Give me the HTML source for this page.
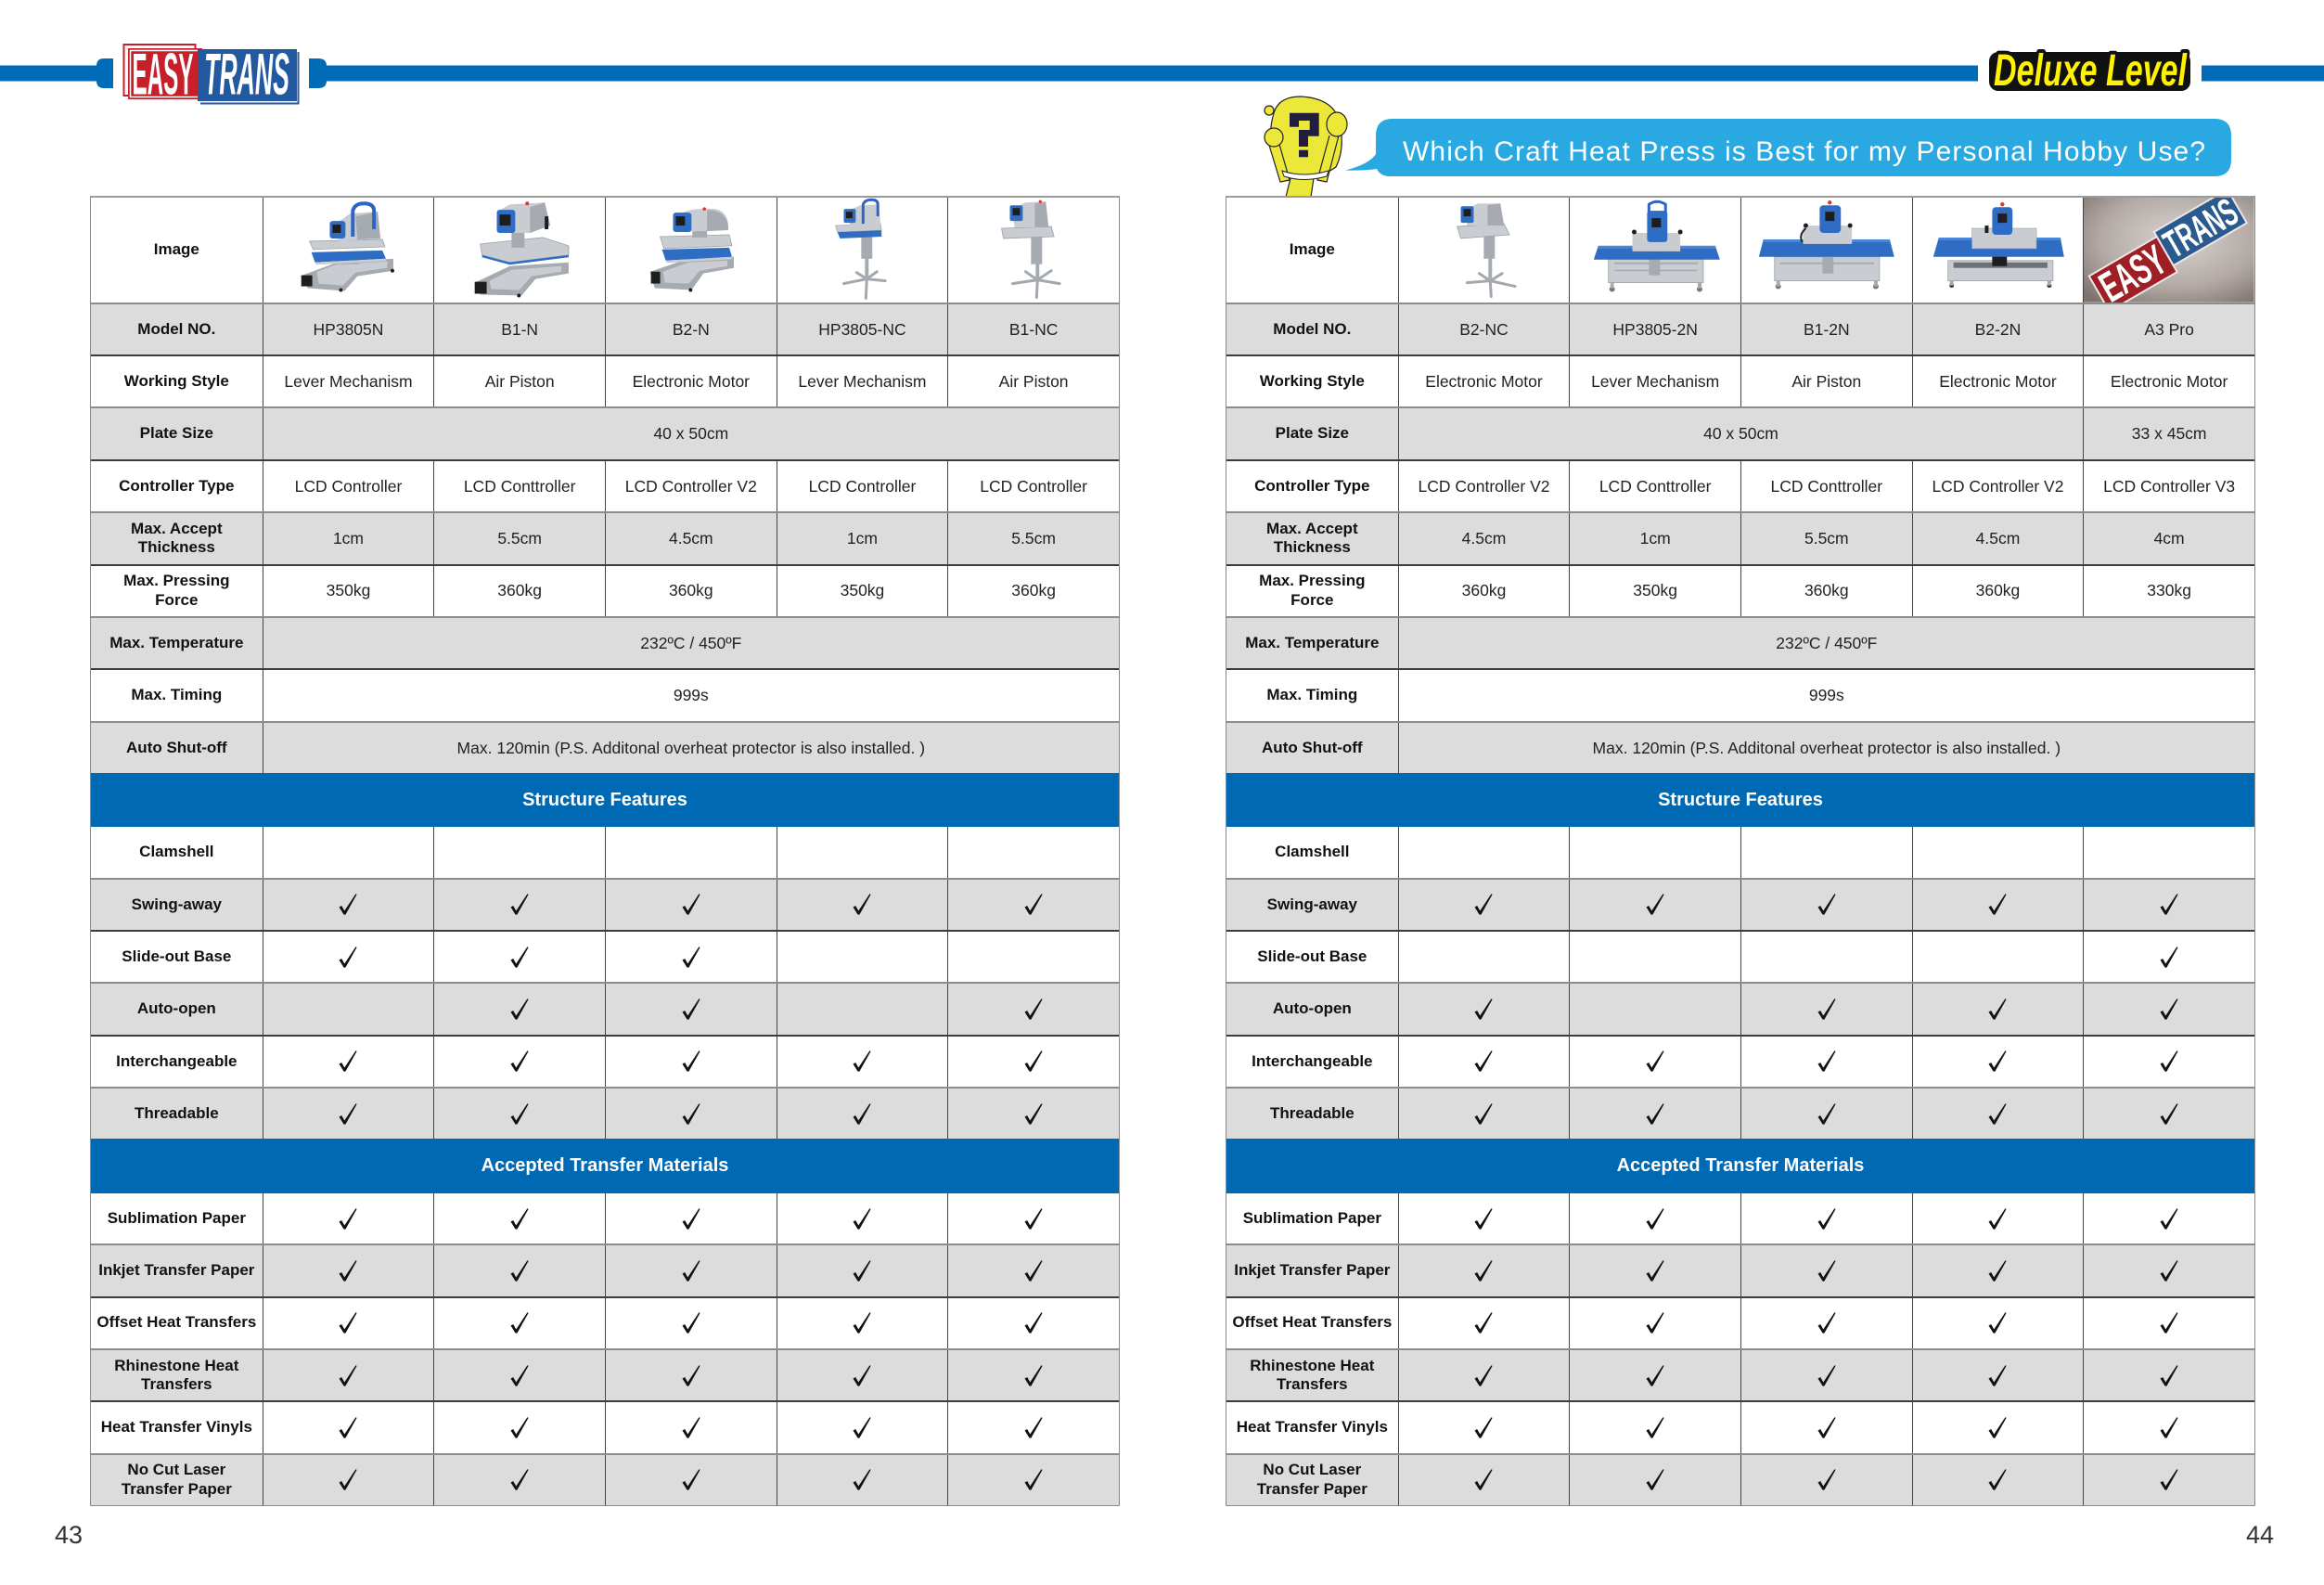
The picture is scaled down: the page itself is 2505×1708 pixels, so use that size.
<!DOCTYPE html>
<html><head><meta charset="utf-8">
<style>
*{margin:0;padding:0;box-sizing:border-box}
body{width:2505px;height:1708px;position:relative;overflow:hidden;background:#fff;font-family:"Liberation Sans",Arial,sans-serif;}
.tbl{position:absolute;top:211px;width:1110px;border:1px solid #8a8a8a;border-top:2px solid #9a9a9a;}
.r{display:flex;height:56.36px;border-top:2px solid #3c3c3c;background:#fff}
.r.g{background:#dcdcdc;border-top-color:#8c8c8c}
.r.i{height:112.72px;border-top:none}
.r.h{background:#0069b4;border-top-color:#0069b4;color:#fff;font-weight:bold;font-size:20px;justify-content:center;align-items:center}
.r.a{border-top-color:#0069b4}
.c{flex:0 0 184.67px;display:flex;align-items:center;justify-content:center;text-align:center;border-left:1px solid #444;font-size:17.5px;color:#222;line-height:20.5px;overflow:hidden}
.c:first-child{border-left:none;font-weight:bold;font-size:17px;color:#111}
.s4{flex-basis:738.67px}.s5{flex-basis:923.33px}
.k{width:20px;height:23px;fill:#111}
svg.p{width:100%;height:100%;display:block}
.gl{fill:#c9cdd2}.gm{fill:#a6abb2}.bl{fill:#2f6cc4}.bk{fill:#1e1e1e}
.pn{position:absolute;font-size:27px;line-height:27px;color:#333;top:1641px}
</style></head>
<body>

<svg width="2505" height="215" style="position:absolute;left:0;top:0">
 <rect x="0" y="70.5" width="104" height="17" fill="#006cb8"/>
 <path d="M112,63 H122 V95 H112 Q104,95 104,87 V71 Q104,63 112,63 Z" fill="#006cb8"/>
 <path d="M333,63 H343 Q352,63 352,71 V87 Q352,95 343,95 H333 Z" fill="#006cb8"/>
 <rect x="351" y="70.5" width="1781" height="17" fill="#006cb8"/>
 <rect x="2373" y="70.5" width="132" height="17" fill="#006cb8"/>
 <!-- logo -->
 <rect x="133.5" y="48" width="77" height="55" fill="none" stroke="#c8202a" stroke-width="2"/>
 <rect x="138" y="52" width="80" height="55" fill="#c8202a"/>
 <rect x="140.5" y="54.5" width="75" height="50" fill="none" stroke="#fff" stroke-width="1.5"/>
 <rect x="213" y="53" width="107" height="56" fill="#23599e"/>
 <path d="M216,111.5 H321.5 V56" fill="none" stroke="#23599e" stroke-width="2"/>
 <text x="175.5" y="101.5" text-anchor="middle" font-family="Liberation Sans" font-weight="bold" font-size="63" fill="#fff" textLength="66" lengthAdjust="spacingAndGlyphs">EASY</text>
 <text x="266" y="101.5" text-anchor="middle" font-family="Liberation Sans" font-weight="bold" font-style="italic" font-size="63" fill="#fff" textLength="92" lengthAdjust="spacingAndGlyphs">TRANS</text>
 <!-- deluxe level -->
 <rect x="2144" y="56" width="217" height="42" rx="10" fill="#111"/>
 <text x="2253" y="92" text-anchor="middle" font-family="Liberation Sans" font-weight="bold" font-style="italic" font-size="48" fill="#fff200" stroke="#111" stroke-width="8" paint-order="stroke" stroke-linejoin="round" textLength="208" lengthAdjust="spacingAndGlyphs">Deluxe Level</text>
 <!-- bubble -->
 <path d="M1501,128 H2387 Q2405,128 2405,146 V172 Q2405,190 2387,190 H1498 Q1488,190 1484,182 Q1470,184 1450,183.5 Q1476,177 1483,166 V146 Q1483,128 1501,128 Z" fill="#29a8e1"/>
 <text x="1512" y="173" font-family="Liberation Sans" font-size="30" fill="#fff" textLength="865" lengthAdjust="spacing">Which Craft Heat Press is Best for my Personal Hobby Use?</text>
 <!-- character -->
 <path d="M1386,212 L1391,192 L1416,192 L1413,212 Z" fill="#ece83a" stroke="#222" stroke-width="1.2"/>
 <path d="M1373,122 Q1378,104 1402,104 Q1438,106 1444,132 Q1450,160 1440,180 Q1420,194 1396,192 Q1376,190 1373,170 Q1366,145 1373,122 Z" fill="#ece83a" stroke="#222" stroke-width="1.2"/>
 <circle cx="1368" cy="119" r="5" fill="#ece83a" stroke="#222" stroke-width="1.2"/>
 <path d="M1366,150 L1380,196 L1390,194 L1378,152" fill="#ece83a" stroke="#222" stroke-width="1.2"/>
 <path d="M1443,146 L1430,196 L1420,194 L1433,146" fill="#ece83a" stroke="#222" stroke-width="1.2"/>
 <ellipse cx="1373" cy="148" rx="10" ry="10" fill="#ece83a" stroke="#222" stroke-width="1.2"/>
 <ellipse cx="1441" cy="134" rx="11" ry="13" fill="#ece83a" stroke="#222" stroke-width="1.2"/>
 <path d="M1382,184 Q1405,192 1432,184 L1430,190 Q1405,197 1384,190 Z" fill="#fff" stroke="#222" stroke-width="1"/>
 <path d="M1390,121.7 H1421.7 V146.7 H1410 V158 H1400 V140 H1411.7 V130 H1400 V136.7 H1390 Z" fill="#221d3d"/>
 <rect x="1400" y="161.7" width="10" height="7.6" fill="#221d3d"/>
</svg>

<!-- LEFT TABLE -->
<div class="tbl" style="left:97px">
 <div class="r i">
  <div class="c">Image</div>
  <div class="c"><svg class="p" viewBox="0 0 185 113">
<polygon class="gm" points="42,84 80,70 141,66 141,79 102,85 88,101 48,98"/>
<polygon class="gl" points="58,80 80,72 135,69 134,76 100,81 86,95 60,93"/>
<rect class="bk" x="41" y="84" width="12" height="12"/>
<circle class="bk" cx="84" cy="100" r="2"/><circle class="bk" cx="140" cy="79" r="2"/>
<polygon class="gm" points="84,62 104,62 104,72 84,72"/>
<polygon class="bl" points="52,59 129,57 133,66 56,70"/>
<polygon class="gl" points="56,70 133,66 133,68.5 57,72.5"/>
<polygon class="gl" points="50,47 129,45 132,53 54,56" stroke="#9ca1a8" stroke-width="0.8"/>
<polygon class="gl" points="76,30 94,17 124,15 127,44 82,47"/>
<polygon class="gm" points="100,20 124,15 127,44 102,45"/>
<rect class="bl" x="72" y="25" width="17" height="19" rx="3"/>
<rect class="bk" x="75" y="29" width="9" height="9"/>
<path d="M97,42 V14 Q99,6 109,6 Q120,6 120,14 V34" fill="none" stroke="#2f65c0" stroke-width="4"/>
  </svg></div>
  <div class="c"><svg class="p" viewBox="0 0 185 113">
<polygon class="gm" points="44,92 82,74 146,70 146,82 110,88 95,106 50,105"/>
<polygon class="gl" points="60,90 84,78 138,74 138,80 106,85 92,100 62,99"/>
<rect class="bk" x="44" y="91" width="13" height="13"/>
<circle class="bk" cx="92" cy="106" r="2"/>
<polygon class="gl" points="50,50 118,43 146,52 146,62 82,70 52,62" stroke="#9ca1a8" stroke-width="0.8"/>
<polygon class="bl" points="52,62 82,70 146,62 146,64.5 82,72.5 52,64.5"/>
<rect class="gm" x="84" y="32" width="14" height="22"/>
<polygon class="gl" points="70,14 82,7 120,5 126,30 104,38 72,38"/>
<polygon class="gm" points="104,10 120,5 126,30 104,38"/>
<rect class="bl" x="68" y="13" width="20" height="25" rx="3"/>
<rect class="bk" x="71" y="18" width="12" height="12"/>
<rect class="bk" x="120" y="20" width="4" height="14"/>
<circle cx="101" cy="6" r="2" fill="#d33"/>
  </svg></div>
  <div class="c"><svg class="p" viewBox="0 0 185 113">
<polygon class="gm" points="48,80 90,66 139,64 139,76 106,82 93,100 53,98"/>
<polygon class="gl" points="62,80 90,70 132,68 132,74 102,79 90,93 64,92"/>
<rect class="bk" x="49" y="80" width="10" height="13"/>
<circle class="bk" cx="92" cy="100" r="2"/>
<polygon class="bl" points="61,56 134,54 137,64 65,68"/>
<polygon class="gl" points="65,68 137,64 137,66.5 66,70.5"/>
<polygon class="gl" points="59,42 134,40 137,52 63,55" stroke="#9ca1a8" stroke-width="0.8"/>
<rect class="gm" x="94" y="33" width="16" height="10"/>
<path class="gl" d="M76,37 L78,19 Q90,10 118,12 Q134,14 133,35 Z"/>
<path class="gm" d="M110,13 Q134,14 133,35 L110,36 Z"/>
<rect class="bl" x="73" y="16" width="20" height="21" rx="3"/>
<rect class="bk" x="76" y="20" width="10" height="10"/>
<circle cx="107" cy="12" r="1.8" fill="#d33"/>
  </svg></div>
  <div class="c"><svg class="p" viewBox="0 0 185 113">
<g stroke="#a3a8af" stroke-width="3" stroke-linecap="round">
<line x1="97" y1="88" x2="72" y2="93"/><line x1="97" y1="88" x2="117" y2="90"/>
<line x1="97" y1="88" x2="86" y2="81"/><line x1="97" y1="88" x2="108" y2="80"/>
<line x1="97" y1="88" x2="96" y2="109"/></g>
<rect class="gm" x="95" y="55" width="4" height="34"/>
<rect class="gm" x="91" y="42" width="12" height="24"/>
<polygon class="bl" points="65,37 113,35 113,42 68,44"/>
<polygon class="gl" points="63,30 112,28 113,35 65,37" stroke="#9ca1a8" stroke-width="0.6"/>
<polygon class="gl" points="76,14 90,8 110,7 112,29 79,30"/>
<rect class="bl" x="72" y="12" width="13" height="15" rx="2"/>
<rect class="bk" x="74.5" y="15" width="7" height="7"/>
<path d="M93,28 V7 Q95,2 102,2 Q109,2 109,7 V20" fill="none" stroke="#2f65c0" stroke-width="3"/>
  </svg></div>
  <div class="c"><svg class="p" viewBox="0 0 185 113">
<g stroke="#a3a8af" stroke-width="3" stroke-linecap="round">
<line x1="97" y1="89" x2="70" y2="93"/><line x1="97" y1="89" x2="121" y2="93"/>
<line x1="97" y1="89" x2="84" y2="80"/><line x1="97" y1="89" x2="112" y2="79"/>
<line x1="97" y1="89" x2="96" y2="108"/></g>
<rect class="gm" x="95" y="55" width="4" height="34"/>
<rect class="gm" x="90" y="42" width="12" height="30"/>
<polygon class="gl" points="58,33 112,31 115,42 60,44" stroke="#9ca1a8" stroke-width="0.8"/>
<polygon class="gl" points="70,12 84,5 106,4 109,32 72,32"/>
<polygon class="gm" points="94,6 106,4 109,32 94,32"/>
<rect class="bl" x="67" y="8" width="14" height="17" rx="2"/>
<rect class="bk" x="70" y="11" width="8" height="8"/>
<circle cx="100" cy="4" r="1.6" fill="#d33"/>
  </svg></div>
 </div>
 <div class="r g"><div class="c">Model NO.</div><div class="c">HP3805N</div><div class="c">B1-N</div><div class="c">B2-N</div><div class="c">HP3805-NC</div><div class="c">B1-NC</div></div>
 <div class="r"><div class="c">Working Style</div><div class="c">Lever Mechanism</div><div class="c">Air Piston</div><div class="c">Electronic Motor</div><div class="c">Lever Mechanism</div><div class="c">Air Piston</div></div>
 <div class="r g"><div class="c">Plate Size</div><div class="c s5">40 x 50cm</div></div>
 <div class="r"><div class="c">Controller Type</div><div class="c">LCD Controller</div><div class="c">LCD Conttroller</div><div class="c">LCD Controller V2</div><div class="c">LCD Controller</div><div class="c">LCD Controller</div></div>
 <div class="r g"><div class="c">Max. Accept<br>Thickness</div><div class="c">1cm</div><div class="c">5.5cm</div><div class="c">4.5cm</div><div class="c">1cm</div><div class="c">5.5cm</div></div>
 <div class="r"><div class="c">Max. Pressing<br>Force</div><div class="c">350kg</div><div class="c">360kg</div><div class="c">360kg</div><div class="c">350kg</div><div class="c">360kg</div></div>
 <div class="r g"><div class="c">Max. Temperature</div><div class="c s5">232ºC / 450ºF</div></div>
 <div class="r"><div class="c">Max. Timing</div><div class="c s5">999s</div></div>
 <div class="r g"><div class="c">Auto Shut-off</div><div class="c s5">Max. 120min (P.S. Additonal overheat protector is also installed. )</div></div>
 <div class="r h">Structure Features</div>
 <div class="r a"><div class="c">Clamshell</div><div class="c"></div><div class="c"></div><div class="c"></div><div class="c"></div><div class="c"></div></div>
 <div class="r g"><div class="c">Swing-away</div><div class="c"><svg class="k" viewBox="0 0 20 23"><polygon points="0.5,14.5 3.2,13 6.3,18.5 18.4,0.2 19.6,0.9 7.4,22.6 5.6,22.6"/></svg></div><div class="c"><svg class="k" viewBox="0 0 20 23"><polygon points="0.5,14.5 3.2,13 6.3,18.5 18.4,0.2 19.6,0.9 7.4,22.6 5.6,22.6"/></svg></div><div class="c"><svg class="k" viewBox="0 0 20 23"><polygon points="0.5,14.5 3.2,13 6.3,18.5 18.4,0.2 19.6,0.9 7.4,22.6 5.6,22.6"/></svg></div><div class="c"><svg class="k" viewBox="0 0 20 23"><polygon points="0.5,14.5 3.2,13 6.3,18.5 18.4,0.2 19.6,0.9 7.4,22.6 5.6,22.6"/></svg></div><div class="c"><svg class="k" viewBox="0 0 20 23"><polygon points="0.5,14.5 3.2,13 6.3,18.5 18.4,0.2 19.6,0.9 7.4,22.6 5.6,22.6"/></svg></div></div>
 <div class="r"><div class="c">Slide-out Base</div><div class="c"><svg class="k" viewBox="0 0 20 23"><polygon points="0.5,14.5 3.2,13 6.3,18.5 18.4,0.2 19.6,0.9 7.4,22.6 5.6,22.6"/></svg></div><div class="c"><svg class="k" viewBox="0 0 20 23"><polygon points="0.5,14.5 3.2,13 6.3,18.5 18.4,0.2 19.6,0.9 7.4,22.6 5.6,22.6"/></svg></div><div class="c"><svg class="k" viewBox="0 0 20 23"><polygon points="0.5,14.5 3.2,13 6.3,18.5 18.4,0.2 19.6,0.9 7.4,22.6 5.6,22.6"/></svg></div><div class="c"></div><div class="c"></div></div>
 <div class="r g"><div class="c">Auto-open</div><div class="c"></div><div class="c"><svg class="k" viewBox="0 0 20 23"><polygon points="0.5,14.5 3.2,13 6.3,18.5 18.4,0.2 19.6,0.9 7.4,22.6 5.6,22.6"/></svg></div><div class="c"><svg class="k" viewBox="0 0 20 23"><polygon points="0.5,14.5 3.2,13 6.3,18.5 18.4,0.2 19.6,0.9 7.4,22.6 5.6,22.6"/></svg></div><div class="c"></div><div class="c"><svg class="k" viewBox="0 0 20 23"><polygon points="0.5,14.5 3.2,13 6.3,18.5 18.4,0.2 19.6,0.9 7.4,22.6 5.6,22.6"/></svg></div></div>
 <div class="r"><div class="c">Interchangeable</div><div class="c"><svg class="k" viewBox="0 0 20 23"><polygon points="0.5,14.5 3.2,13 6.3,18.5 18.4,0.2 19.6,0.9 7.4,22.6 5.6,22.6"/></svg></div><div class="c"><svg class="k" viewBox="0 0 20 23"><polygon points="0.5,14.5 3.2,13 6.3,18.5 18.4,0.2 19.6,0.9 7.4,22.6 5.6,22.6"/></svg></div><div class="c"><svg class="k" viewBox="0 0 20 23"><polygon points="0.5,14.5 3.2,13 6.3,18.5 18.4,0.2 19.6,0.9 7.4,22.6 5.6,22.6"/></svg></div><div class="c"><svg class="k" viewBox="0 0 20 23"><polygon points="0.5,14.5 3.2,13 6.3,18.5 18.4,0.2 19.6,0.9 7.4,22.6 5.6,22.6"/></svg></div><div class="c"><svg class="k" viewBox="0 0 20 23"><polygon points="0.5,14.5 3.2,13 6.3,18.5 18.4,0.2 19.6,0.9 7.4,22.6 5.6,22.6"/></svg></div></div>
 <div class="r g"><div class="c">Threadable</div><div class="c"><svg class="k" viewBox="0 0 20 23"><polygon points="0.5,14.5 3.2,13 6.3,18.5 18.4,0.2 19.6,0.9 7.4,22.6 5.6,22.6"/></svg></div><div class="c"><svg class="k" viewBox="0 0 20 23"><polygon points="0.5,14.5 3.2,13 6.3,18.5 18.4,0.2 19.6,0.9 7.4,22.6 5.6,22.6"/></svg></div><div class="c"><svg class="k" viewBox="0 0 20 23"><polygon points="0.5,14.5 3.2,13 6.3,18.5 18.4,0.2 19.6,0.9 7.4,22.6 5.6,22.6"/></svg></div><div class="c"><svg class="k" viewBox="0 0 20 23"><polygon points="0.5,14.5 3.2,13 6.3,18.5 18.4,0.2 19.6,0.9 7.4,22.6 5.6,22.6"/></svg></div><div class="c"><svg class="k" viewBox="0 0 20 23"><polygon points="0.5,14.5 3.2,13 6.3,18.5 18.4,0.2 19.6,0.9 7.4,22.6 5.6,22.6"/></svg></div></div>
 <div class="r h">Accepted Transfer Materials</div>
 <div class="r a"><div class="c">Sublimation Paper</div><div class="c"><svg class="k" viewBox="0 0 20 23"><polygon points="0.5,14.5 3.2,13 6.3,18.5 18.4,0.2 19.6,0.9 7.4,22.6 5.6,22.6"/></svg></div><div class="c"><svg class="k" viewBox="0 0 20 23"><polygon points="0.5,14.5 3.2,13 6.3,18.5 18.4,0.2 19.6,0.9 7.4,22.6 5.6,22.6"/></svg></div><div class="c"><svg class="k" viewBox="0 0 20 23"><polygon points="0.5,14.5 3.2,13 6.3,18.5 18.4,0.2 19.6,0.9 7.4,22.6 5.6,22.6"/></svg></div><div class="c"><svg class="k" viewBox="0 0 20 23"><polygon points="0.5,14.5 3.2,13 6.3,18.5 18.4,0.2 19.6,0.9 7.4,22.6 5.6,22.6"/></svg></div><div class="c"><svg class="k" viewBox="0 0 20 23"><polygon points="0.5,14.5 3.2,13 6.3,18.5 18.4,0.2 19.6,0.9 7.4,22.6 5.6,22.6"/></svg></div></div>
 <div class="r g"><div class="c">Inkjet Transfer Paper</div><div class="c"><svg class="k" viewBox="0 0 20 23"><polygon points="0.5,14.5 3.2,13 6.3,18.5 18.4,0.2 19.6,0.9 7.4,22.6 5.6,22.6"/></svg></div><div class="c"><svg class="k" viewBox="0 0 20 23"><polygon points="0.5,14.5 3.2,13 6.3,18.5 18.4,0.2 19.6,0.9 7.4,22.6 5.6,22.6"/></svg></div><div class="c"><svg class="k" viewBox="0 0 20 23"><polygon points="0.5,14.5 3.2,13 6.3,18.5 18.4,0.2 19.6,0.9 7.4,22.6 5.6,22.6"/></svg></div><div class="c"><svg class="k" viewBox="0 0 20 23"><polygon points="0.5,14.5 3.2,13 6.3,18.5 18.4,0.2 19.6,0.9 7.4,22.6 5.6,22.6"/></svg></div><div class="c"><svg class="k" viewBox="0 0 20 23"><polygon points="0.5,14.5 3.2,13 6.3,18.5 18.4,0.2 19.6,0.9 7.4,22.6 5.6,22.6"/></svg></div></div>
 <div class="r"><div class="c">Offset Heat Transfers</div><div class="c"><svg class="k" viewBox="0 0 20 23"><polygon points="0.5,14.5 3.2,13 6.3,18.5 18.4,0.2 19.6,0.9 7.4,22.6 5.6,22.6"/></svg></div><div class="c"><svg class="k" viewBox="0 0 20 23"><polygon points="0.5,14.5 3.2,13 6.3,18.5 18.4,0.2 19.6,0.9 7.4,22.6 5.6,22.6"/></svg></div><div class="c"><svg class="k" viewBox="0 0 20 23"><polygon points="0.5,14.5 3.2,13 6.3,18.5 18.4,0.2 19.6,0.9 7.4,22.6 5.6,22.6"/></svg></div><div class="c"><svg class="k" viewBox="0 0 20 23"><polygon points="0.5,14.5 3.2,13 6.3,18.5 18.4,0.2 19.6,0.9 7.4,22.6 5.6,22.6"/></svg></div><div class="c"><svg class="k" viewBox="0 0 20 23"><polygon points="0.5,14.5 3.2,13 6.3,18.5 18.4,0.2 19.6,0.9 7.4,22.6 5.6,22.6"/></svg></div></div>
 <div class="r g"><div class="c">Rhinestone Heat<br>Transfers</div><div class="c"><svg class="k" viewBox="0 0 20 23"><polygon points="0.5,14.5 3.2,13 6.3,18.5 18.4,0.2 19.6,0.9 7.4,22.6 5.6,22.6"/></svg></div><div class="c"><svg class="k" viewBox="0 0 20 23"><polygon points="0.5,14.5 3.2,13 6.3,18.5 18.4,0.2 19.6,0.9 7.4,22.6 5.6,22.6"/></svg></div><div class="c"><svg class="k" viewBox="0 0 20 23"><polygon points="0.5,14.5 3.2,13 6.3,18.5 18.4,0.2 19.6,0.9 7.4,22.6 5.6,22.6"/></svg></div><div class="c"><svg class="k" viewBox="0 0 20 23"><polygon points="0.5,14.5 3.2,13 6.3,18.5 18.4,0.2 19.6,0.9 7.4,22.6 5.6,22.6"/></svg></div><div class="c"><svg class="k" viewBox="0 0 20 23"><polygon points="0.5,14.5 3.2,13 6.3,18.5 18.4,0.2 19.6,0.9 7.4,22.6 5.6,22.6"/></svg></div></div>
 <div class="r"><div class="c">Heat Transfer Vinyls</div><div class="c"><svg class="k" viewBox="0 0 20 23"><polygon points="0.5,14.5 3.2,13 6.3,18.5 18.4,0.2 19.6,0.9 7.4,22.6 5.6,22.6"/></svg></div><div class="c"><svg class="k" viewBox="0 0 20 23"><polygon points="0.5,14.5 3.2,13 6.3,18.5 18.4,0.2 19.6,0.9 7.4,22.6 5.6,22.6"/></svg></div><div class="c"><svg class="k" viewBox="0 0 20 23"><polygon points="0.5,14.5 3.2,13 6.3,18.5 18.4,0.2 19.6,0.9 7.4,22.6 5.6,22.6"/></svg></div><div class="c"><svg class="k" viewBox="0 0 20 23"><polygon points="0.5,14.5 3.2,13 6.3,18.5 18.4,0.2 19.6,0.9 7.4,22.6 5.6,22.6"/></svg></div><div class="c"><svg class="k" viewBox="0 0 20 23"><polygon points="0.5,14.5 3.2,13 6.3,18.5 18.4,0.2 19.6,0.9 7.4,22.6 5.6,22.6"/></svg></div></div>
 <div class="r g"><div class="c">No Cut Laser<br>Transfer Paper</div><div class="c"><svg class="k" viewBox="0 0 20 23"><polygon points="0.5,14.5 3.2,13 6.3,18.5 18.4,0.2 19.6,0.9 7.4,22.6 5.6,22.6"/></svg></div><div class="c"><svg class="k" viewBox="0 0 20 23"><polygon points="0.5,14.5 3.2,13 6.3,18.5 18.4,0.2 19.6,0.9 7.4,22.6 5.6,22.6"/></svg></div><div class="c"><svg class="k" viewBox="0 0 20 23"><polygon points="0.5,14.5 3.2,13 6.3,18.5 18.4,0.2 19.6,0.9 7.4,22.6 5.6,22.6"/></svg></div><div class="c"><svg class="k" viewBox="0 0 20 23"><polygon points="0.5,14.5 3.2,13 6.3,18.5 18.4,0.2 19.6,0.9 7.4,22.6 5.6,22.6"/></svg></div><div class="c"><svg class="k" viewBox="0 0 20 23"><polygon points="0.5,14.5 3.2,13 6.3,18.5 18.4,0.2 19.6,0.9 7.4,22.6 5.6,22.6"/></svg></div></div>
</div>

<!-- RIGHT TABLE -->
<div class="tbl" style="left:1321px">
 <div class="r i">
  <div class="c">Image</div>
  <div class="c"><svg class="p" viewBox="0 0 185 113">
<g stroke="#a3a8af" stroke-width="3" stroke-linecap="round">
<line x1="99" y1="90" x2="74" y2="92"/><line x1="99" y1="90" x2="126" y2="96"/>
<line x1="99" y1="90" x2="87" y2="82"/><line x1="99" y1="90" x2="112" y2="82"/>
<line x1="99" y1="90" x2="100" y2="107"/></g>
<rect class="gm" x="97" y="50" width="4" height="40"/>
<rect class="gm" x="92" y="40" width="12" height="26"/>
<polygon class="gl" points="63,31 114,28 120,40 67,44" stroke="#9ca1a8" stroke-width="0.8"/>
<polygon class="gl" points="72,12 86,6 110,6 114,30 74,30"/>
<polygon class="gm" points="96,8 110,6 114,30 96,30"/>
<rect class="bl" x="67" y="9" width="14" height="18" rx="2"/>
<rect class="bk" x="70" y="12" width="8" height="8"/>
  </svg></div>
  <div class="c"><svg class="p" viewBox="0 0 185 113">
<circle cx="46" cy="99" r="3" fill="#777"/><circle cx="141" cy="99" r="3" fill="#777"/>
<rect class="gm" x="44" y="90" width="4" height="8"/><rect class="gm" x="139" y="90" width="4" height="8"/>
<rect class="gl" x="42" y="66" width="103" height="26" stroke="#9ca1a8" stroke-width="0.8"/>
<rect class="gm" x="48" y="70" width="91" height="2"/><rect class="gm" x="48" y="78" width="91" height="1.5"/>
<rect class="gm" x="86" y="60" width="12" height="24"/>
<polygon class="bl" points="31,52 158,52 163,67 26,67"/>
<polygon fill="#4b87d9" points="31,52 158,52 159,55 30,55"/>
<rect class="gl" x="68" y="38" width="52" height="20"/>
<rect class="bl" x="84" y="14" width="22" height="34" rx="3"/>
<rect class="bk" x="89" y="22" width="10" height="10"/>
<path d="M86,16 V7 Q95,1 104,7 V16" fill="none" stroke="#2f65c0" stroke-width="3"/>
<circle class="bk" cx="70" cy="37" r="2.5"/><circle class="bk" cx="120" cy="37" r="2.5"/>
  </svg></div>
  <div class="c"><svg class="p" viewBox="0 0 185 113">
<circle cx="40" cy="96" r="3" fill="#777"/><circle cx="146" cy="96" r="3" fill="#777"/>
<rect class="gm" x="38" y="88" width="4" height="8"/><rect class="gm" x="144" y="88" width="4" height="8"/>
<rect class="gl" x="36" y="64" width="114" height="26" stroke="#9ca1a8" stroke-width="0.8"/>
<rect class="gm" x="42" y="70" width="102" height="2"/>
<rect class="gm" x="88" y="58" width="12" height="24"/>
<polygon class="bl" points="24,45 161,45 166,64 19,64"/>
<polygon fill="#4b87d9" points="24,45 161,45 162,48 23,48"/>
<rect class="gl" x="67" y="30" width="53" height="20"/>
<rect class="bl" x="85" y="8" width="23" height="30" rx="4"/>
<rect class="bk" x="91" y="15" width="10" height="10"/>
<circle cx="96" cy="5" r="2.2" fill="#d33"/>
<circle class="bk" cx="70" cy="30" r="2.5"/><circle class="bk" cx="118" cy="30" r="2.5"/>
<path d="M70,33 Q62,40 66,48" fill="none" stroke="#222" stroke-width="2"/>
  </svg></div>
  <div class="c"><svg class="p" viewBox="0 0 185 113">
<circle cx="42" cy="95" r="2.5" fill="#333"/><circle cx="148" cy="95" r="2.5" fill="#333"/>
<rect class="gm" x="40" y="88" width="4" height="7"/><rect class="gm" x="146" y="88" width="4" height="7"/>
<rect class="gl" x="38" y="68" width="114" height="22" stroke="#9ca1a8" stroke-width="0.8"/>
<rect fill="#6d7279" x="44" y="70" width="102" height="6"/>
<rect class="bk" x="86" y="58" width="16" height="16"/>
<polygon class="bl" points="28,43 160,43 164,64 22,64"/>
<polygon fill="#4b87d9" points="28,43 160,43 161,46 27,46"/>
<rect class="gl" x="64" y="33" width="70" height="22" stroke="#9ca1a8" stroke-width="0.6"/>
<rect class="bl" x="86" y="10" width="22" height="30" rx="4"/>
<rect class="bk" x="92" y="17" width="10" height="10"/>
<circle cx="97" cy="7" r="2.2" fill="#d33"/>
<rect class="bk" x="78" y="30" width="4" height="8"/>
  </svg></div>
  <div class="c"><svg class="p" viewBox="0 0 185 113" preserveAspectRatio="none">
<defs><radialGradient id="pg" cx="0.55" cy="0.4" r="0.75"><stop offset="0" stop-color="#d9d3cf"/><stop offset="0.6" stop-color="#b3aaa6"/><stop offset="1" stop-color="#7e726e"/></radialGradient></defs>
<rect width="185" height="113" fill="url(#pg)"/>
<g transform="translate(92,58) rotate(-30)">
 <rect x="-88" y="-20" width="85" height="44" fill="#9e1f25" stroke="#ece7e4" stroke-width="2"/>
 <rect x="-3" y="-26" width="92" height="42" fill="#2b5b8e" stroke="#ece7e4" stroke-width="2"/>
 <text x="-45.5" y="17" text-anchor="middle" font-family="Liberation Sans" font-weight="bold" font-size="46" fill="#fff" textLength="74" lengthAdjust="spacingAndGlyphs">EASY</text>
 <text x="43" y="10" text-anchor="middle" font-family="Liberation Sans" font-weight="bold" font-size="42" fill="#fff" textLength="84" lengthAdjust="spacingAndGlyphs">TRANS</text>
</g>
  </svg></div>
 </div>
 <div class="r g"><div class="c">Model NO.</div><div class="c">B2-NC</div><div class="c">HP3805-2N</div><div class="c">B1-2N</div><div class="c">B2-2N</div><div class="c">A3 Pro</div></div>
 <div class="r"><div class="c">Working Style</div><div class="c">Electronic Motor</div><div class="c">Lever Mechanism</div><div class="c">Air Piston</div><div class="c">Electronic Motor</div><div class="c">Electronic Motor</div></div>
 <div class="r g"><div class="c">Plate Size</div><div class="c s4">40 x 50cm</div><div class="c">33 x 45cm</div></div>
 <div class="r"><div class="c">Controller Type</div><div class="c">LCD Controller V2</div><div class="c">LCD Conttroller</div><div class="c">LCD Conttroller</div><div class="c">LCD Controller V2</div><div class="c">LCD Controller V3</div></div>
 <div class="r g"><div class="c">Max. Accept<br>Thickness</div><div class="c">4.5cm</div><div class="c">1cm</div><div class="c">5.5cm</div><div class="c">4.5cm</div><div class="c">4cm</div></div>
 <div class="r"><div class="c">Max. Pressing<br>Force</div><div class="c">360kg</div><div class="c">350kg</div><div class="c">360kg</div><div class="c">360kg</div><div class="c">330kg</div></div>
 <div class="r g"><div class="c">Max. Temperature</div><div class="c s5">232ºC / 450ºF</div></div>
 <div class="r"><div class="c">Max. Timing</div><div class="c s5">999s</div></div>
 <div class="r g"><div class="c">Auto Shut-off</div><div class="c s5">Max. 120min (P.S. Additonal overheat protector is also installed. )</div></div>
 <div class="r h">Structure Features</div>
 <div class="r a"><div class="c">Clamshell</div><div class="c"></div><div class="c"></div><div class="c"></div><div class="c"></div><div class="c"></div></div>
 <div class="r g"><div class="c">Swing-away</div><div class="c"><svg class="k" viewBox="0 0 20 23"><polygon points="0.5,14.5 3.2,13 6.3,18.5 18.4,0.2 19.6,0.9 7.4,22.6 5.6,22.6"/></svg></div><div class="c"><svg class="k" viewBox="0 0 20 23"><polygon points="0.5,14.5 3.2,13 6.3,18.5 18.4,0.2 19.6,0.9 7.4,22.6 5.6,22.6"/></svg></div><div class="c"><svg class="k" viewBox="0 0 20 23"><polygon points="0.5,14.5 3.2,13 6.3,18.5 18.4,0.2 19.6,0.9 7.4,22.6 5.6,22.6"/></svg></div><div class="c"><svg class="k" viewBox="0 0 20 23"><polygon points="0.5,14.5 3.2,13 6.3,18.5 18.4,0.2 19.6,0.9 7.4,22.6 5.6,22.6"/></svg></div><div class="c"><svg class="k" viewBox="0 0 20 23"><polygon points="0.5,14.5 3.2,13 6.3,18.5 18.4,0.2 19.6,0.9 7.4,22.6 5.6,22.6"/></svg></div></div>
 <div class="r"><div class="c">Slide-out Base</div><div class="c"></div><div class="c"></div><div class="c"></div><div class="c"></div><div class="c"><svg class="k" viewBox="0 0 20 23"><polygon points="0.5,14.5 3.2,13 6.3,18.5 18.4,0.2 19.6,0.9 7.4,22.6 5.6,22.6"/></svg></div></div>
 <div class="r g"><div class="c">Auto-open</div><div class="c"><svg class="k" viewBox="0 0 20 23"><polygon points="0.5,14.5 3.2,13 6.3,18.5 18.4,0.2 19.6,0.9 7.4,22.6 5.6,22.6"/></svg></div><div class="c"></div><div class="c"><svg class="k" viewBox="0 0 20 23"><polygon points="0.5,14.5 3.2,13 6.3,18.5 18.4,0.2 19.6,0.9 7.4,22.6 5.6,22.6"/></svg></div><div class="c"><svg class="k" viewBox="0 0 20 23"><polygon points="0.5,14.5 3.2,13 6.3,18.5 18.4,0.2 19.6,0.9 7.4,22.6 5.6,22.6"/></svg></div><div class="c"><svg class="k" viewBox="0 0 20 23"><polygon points="0.5,14.5 3.2,13 6.3,18.5 18.4,0.2 19.6,0.9 7.4,22.6 5.6,22.6"/></svg></div></div>
 <div class="r"><div class="c">Interchangeable</div><div class="c"><svg class="k" viewBox="0 0 20 23"><polygon points="0.5,14.5 3.2,13 6.3,18.5 18.4,0.2 19.6,0.9 7.4,22.6 5.6,22.6"/></svg></div><div class="c"><svg class="k" viewBox="0 0 20 23"><polygon points="0.5,14.5 3.2,13 6.3,18.5 18.4,0.2 19.6,0.9 7.4,22.6 5.6,22.6"/></svg></div><div class="c"><svg class="k" viewBox="0 0 20 23"><polygon points="0.5,14.5 3.2,13 6.3,18.5 18.4,0.2 19.6,0.9 7.4,22.6 5.6,22.6"/></svg></div><div class="c"><svg class="k" viewBox="0 0 20 23"><polygon points="0.5,14.5 3.2,13 6.3,18.5 18.4,0.2 19.6,0.9 7.4,22.6 5.6,22.6"/></svg></div><div class="c"><svg class="k" viewBox="0 0 20 23"><polygon points="0.5,14.5 3.2,13 6.3,18.5 18.4,0.2 19.6,0.9 7.4,22.6 5.6,22.6"/></svg></div></div>
 <div class="r g"><div class="c">Threadable</div><div class="c"><svg class="k" viewBox="0 0 20 23"><polygon points="0.5,14.5 3.2,13 6.3,18.5 18.4,0.2 19.6,0.9 7.4,22.6 5.6,22.6"/></svg></div><div class="c"><svg class="k" viewBox="0 0 20 23"><polygon points="0.5,14.5 3.2,13 6.3,18.5 18.4,0.2 19.6,0.9 7.4,22.6 5.6,22.6"/></svg></div><div class="c"><svg class="k" viewBox="0 0 20 23"><polygon points="0.5,14.5 3.2,13 6.3,18.5 18.4,0.2 19.6,0.9 7.4,22.6 5.6,22.6"/></svg></div><div class="c"><svg class="k" viewBox="0 0 20 23"><polygon points="0.5,14.5 3.2,13 6.3,18.5 18.4,0.2 19.6,0.9 7.4,22.6 5.6,22.6"/></svg></div><div class="c"><svg class="k" viewBox="0 0 20 23"><polygon points="0.5,14.5 3.2,13 6.3,18.5 18.4,0.2 19.6,0.9 7.4,22.6 5.6,22.6"/></svg></div></div>
 <div class="r h">Accepted Transfer Materials</div>
 <div class="r a"><div class="c">Sublimation Paper</div><div class="c"><svg class="k" viewBox="0 0 20 23"><polygon points="0.5,14.5 3.2,13 6.3,18.5 18.4,0.2 19.6,0.9 7.4,22.6 5.6,22.6"/></svg></div><div class="c"><svg class="k" viewBox="0 0 20 23"><polygon points="0.5,14.5 3.2,13 6.3,18.5 18.4,0.2 19.6,0.9 7.4,22.6 5.6,22.6"/></svg></div><div class="c"><svg class="k" viewBox="0 0 20 23"><polygon points="0.5,14.5 3.2,13 6.3,18.5 18.4,0.2 19.6,0.9 7.4,22.6 5.6,22.6"/></svg></div><div class="c"><svg class="k" viewBox="0 0 20 23"><polygon points="0.5,14.5 3.2,13 6.3,18.5 18.4,0.2 19.6,0.9 7.4,22.6 5.6,22.6"/></svg></div><div class="c"><svg class="k" viewBox="0 0 20 23"><polygon points="0.5,14.5 3.2,13 6.3,18.5 18.4,0.2 19.6,0.9 7.4,22.6 5.6,22.6"/></svg></div></div>
 <div class="r g"><div class="c">Inkjet Transfer Paper</div><div class="c"><svg class="k" viewBox="0 0 20 23"><polygon points="0.5,14.5 3.2,13 6.3,18.5 18.4,0.2 19.6,0.9 7.4,22.6 5.6,22.6"/></svg></div><div class="c"><svg class="k" viewBox="0 0 20 23"><polygon points="0.5,14.5 3.2,13 6.3,18.5 18.4,0.2 19.6,0.9 7.4,22.6 5.6,22.6"/></svg></div><div class="c"><svg class="k" viewBox="0 0 20 23"><polygon points="0.5,14.5 3.2,13 6.3,18.5 18.4,0.2 19.6,0.9 7.4,22.6 5.6,22.6"/></svg></div><div class="c"><svg class="k" viewBox="0 0 20 23"><polygon points="0.5,14.5 3.2,13 6.3,18.5 18.4,0.2 19.6,0.9 7.4,22.6 5.6,22.6"/></svg></div><div class="c"><svg class="k" viewBox="0 0 20 23"><polygon points="0.5,14.5 3.2,13 6.3,18.5 18.4,0.2 19.6,0.9 7.4,22.6 5.6,22.6"/></svg></div></div>
 <div class="r"><div class="c">Offset Heat Transfers</div><div class="c"><svg class="k" viewBox="0 0 20 23"><polygon points="0.5,14.5 3.2,13 6.3,18.5 18.4,0.2 19.6,0.9 7.4,22.6 5.6,22.6"/></svg></div><div class="c"><svg class="k" viewBox="0 0 20 23"><polygon points="0.5,14.5 3.2,13 6.3,18.5 18.4,0.2 19.6,0.9 7.4,22.6 5.6,22.6"/></svg></div><div class="c"><svg class="k" viewBox="0 0 20 23"><polygon points="0.5,14.5 3.2,13 6.3,18.5 18.4,0.2 19.6,0.9 7.4,22.6 5.6,22.6"/></svg></div><div class="c"><svg class="k" viewBox="0 0 20 23"><polygon points="0.5,14.5 3.2,13 6.3,18.5 18.4,0.2 19.6,0.9 7.4,22.6 5.6,22.6"/></svg></div><div class="c"><svg class="k" viewBox="0 0 20 23"><polygon points="0.5,14.5 3.2,13 6.3,18.5 18.4,0.2 19.6,0.9 7.4,22.6 5.6,22.6"/></svg></div></div>
 <div class="r g"><div class="c">Rhinestone Heat<br>Transfers</div><div class="c"><svg class="k" viewBox="0 0 20 23"><polygon points="0.5,14.5 3.2,13 6.3,18.5 18.4,0.2 19.6,0.9 7.4,22.6 5.6,22.6"/></svg></div><div class="c"><svg class="k" viewBox="0 0 20 23"><polygon points="0.5,14.5 3.2,13 6.3,18.5 18.4,0.2 19.6,0.9 7.4,22.6 5.6,22.6"/></svg></div><div class="c"><svg class="k" viewBox="0 0 20 23"><polygon points="0.5,14.5 3.2,13 6.3,18.5 18.4,0.2 19.6,0.9 7.4,22.6 5.6,22.6"/></svg></div><div class="c"><svg class="k" viewBox="0 0 20 23"><polygon points="0.5,14.5 3.2,13 6.3,18.5 18.4,0.2 19.6,0.9 7.4,22.6 5.6,22.6"/></svg></div><div class="c"><svg class="k" viewBox="0 0 20 23"><polygon points="0.5,14.5 3.2,13 6.3,18.5 18.4,0.2 19.6,0.9 7.4,22.6 5.6,22.6"/></svg></div></div>
 <div class="r"><div class="c">Heat Transfer Vinyls</div><div class="c"><svg class="k" viewBox="0 0 20 23"><polygon points="0.5,14.5 3.2,13 6.3,18.5 18.4,0.2 19.6,0.9 7.4,22.6 5.6,22.6"/></svg></div><div class="c"><svg class="k" viewBox="0 0 20 23"><polygon points="0.5,14.5 3.2,13 6.3,18.5 18.4,0.2 19.6,0.9 7.4,22.6 5.6,22.6"/></svg></div><div class="c"><svg class="k" viewBox="0 0 20 23"><polygon points="0.5,14.5 3.2,13 6.3,18.5 18.4,0.2 19.6,0.9 7.4,22.6 5.6,22.6"/></svg></div><div class="c"><svg class="k" viewBox="0 0 20 23"><polygon points="0.5,14.5 3.2,13 6.3,18.5 18.4,0.2 19.6,0.9 7.4,22.6 5.6,22.6"/></svg></div><div class="c"><svg class="k" viewBox="0 0 20 23"><polygon points="0.5,14.5 3.2,13 6.3,18.5 18.4,0.2 19.6,0.9 7.4,22.6 5.6,22.6"/></svg></div></div>
 <div class="r g"><div class="c">No Cut Laser<br>Transfer Paper</div><div class="c"><svg class="k" viewBox="0 0 20 23"><polygon points="0.5,14.5 3.2,13 6.3,18.5 18.4,0.2 19.6,0.9 7.4,22.6 5.6,22.6"/></svg></div><div class="c"><svg class="k" viewBox="0 0 20 23"><polygon points="0.5,14.5 3.2,13 6.3,18.5 18.4,0.2 19.6,0.9 7.4,22.6 5.6,22.6"/></svg></div><div class="c"><svg class="k" viewBox="0 0 20 23"><polygon points="0.5,14.5 3.2,13 6.3,18.5 18.4,0.2 19.6,0.9 7.4,22.6 5.6,22.6"/></svg></div><div class="c"><svg class="k" viewBox="0 0 20 23"><polygon points="0.5,14.5 3.2,13 6.3,18.5 18.4,0.2 19.6,0.9 7.4,22.6 5.6,22.6"/></svg></div><div class="c"><svg class="k" viewBox="0 0 20 23"><polygon points="0.5,14.5 3.2,13 6.3,18.5 18.4,0.2 19.6,0.9 7.4,22.6 5.6,22.6"/></svg></div></div>
</div>

<div class="pn" style="left:59px">43</div>
<div class="pn" style="left:2421px">44</div>

</body></html>
